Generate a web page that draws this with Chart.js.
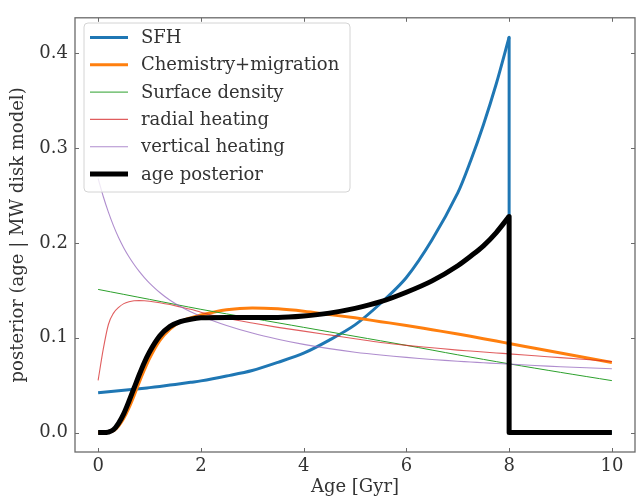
<!DOCTYPE html>
<html><head><meta charset="utf-8">
<script src="https://cdn.jsdelivr.net/npm/chart.js@4.4.0/dist/chart.umd.min.js"></script>
<style>html,body{margin:0;padding:0;background:#fff;}</style>
</head><body>
<canvas id="c" width="638" height="498"></canvas>
<script>
// ---- data ----
const ages = [0,0.1,0.2,0.3,0.4,0.5,0.6,0.7,0.8,0.9,1.0,1.2,1.4,1.6,1.8,2.0,2.5,3.0,3.5,4.0,4.5,5.0,5.5,6.0,6.5,7.0,7.25,7.5,7.75,8.0];
const tailAges = [8.5,9.0,9.5,10.0];
const dropAges = [8.0,8.0,10.0];

const sfh = [0.042,0.0425,0.0430,0.0435,0.0441,0.0446,0.0451,0.0457,0.0462,0.0468,0.0474,0.0487,0.0501,0.0515,0.0530,0.0545,0.0597,0.0655,0.0741,0.0837,0.0975,0.1136,0.1364,0.1636,0.2034,0.2528,0.2865,0.3247,0.3679,0.417];
const sfhDrop = [0.417,0,0];

const chem = [0,0,0.0003,0.002,0.007,0.015,0.026,0.039,0.053,0.066,0.078,0.097,0.109,0.117,0.121,0.124,0.1295,0.1315,0.1305,0.128,0.1245,0.121,0.117,0.113,0.1085,0.104,0.1015,0.099,0.0965,0.094];
const chemTail = [0.089,0.084,0.079,0.074];

const surfAges = [0,1,2,3,4,5,6,7,8,9,10];
const surf = [0.151,0.1405,0.130,0.1205,0.111,0.1015,0.092,0.082,0.0725,0.0635,0.0548];

const radial = [0.055,0.088,0.114,0.126,0.132,0.136,0.138,0.139,0.1392,0.139,0.1385,0.137,0.135,0.1325,0.130,0.127,0.1205,0.1155,0.111,0.107,0.103,0.099,0.095,0.092,0.0895,0.087,0.086,0.085,0.084,0.083];
const radialTail = [0.081,0.079,0.077,0.075];

const vertical = [0.268,0.249,0.2325,0.218,0.2055,0.1948,0.1855,0.1773,0.170,0.1635,0.1577,0.1477,0.1395,0.1330,0.1275,0.1228,0.1130,0.1050,0.0985,0.0930,0.0885,0.0848,0.0818,0.0793,0.0771,0.0752,0.0744,0.0736,0.0729,0.0722];
const verticalTail = [0.0708,0.0695,0.0684,0.0673];

const posterior = [0,0,0.0005,0.003,0.010,0.020,0.033,0.047,0.061,0.074,0.085,0.102,0.112,0.117,0.1195,0.121,0.1215,0.1215,0.1215,0.123,0.126,0.131,0.138,0.148,0.160,0.176,0.186,0.197,0.211,0.228];
const postDrop = [0.228,0,0];

const xTicks = [0,2,4,6,8,10];
const yTicks = [0.0,0.1,0.2,0.3,0.4];

const labels = ['SFH','Chemistry+migration','Surface density','radial heating','vertical heating','age posterior'];

// ---- build datasets ----
const zip = (xs, ys) => xs.map((x,i)=>({x:x, y:ys[i]}));
const FONT = 'DejaVu Serif';
const FS = 18;
const TXT = '#333333';
const SPINE = '#6a6a6a';
const C = ['#1f77b4','#ff7f0e','#2ca02c','rgba(214,39,40,0.75)','rgba(148,103,189,0.75)','#000000'];
const W = [3,3,1,1.1,1.1,5];

const mono = {pointRadius:0, tension:0.4, cubicInterpolationMode:'monotone', fill:false, borderJoinStyle:'round', borderCapStyle:'butt'};
const spline = {pointRadius:0, tension:0.3, cubicInterpolationMode:'default', fill:false, borderJoinStyle:'round', borderCapStyle:'butt'};
const straight = {pointRadius:0, tension:0, fill:false, borderJoinStyle:'round', borderCapStyle:'butt'};

const series = [
  Object.assign({label:labels[0], data: zip(ages,sfh), borderColor:C[0], borderWidth:W[0], order:5, legend:true}, spline),
  Object.assign({label:labels[0]+' drop', data: zip(dropAges,sfhDrop), borderColor:C[0], borderWidth:W[0], order:5}, straight),
  Object.assign({label:labels[1], data: zip(ages,chem).concat(zip(tailAges,chemTail)), borderColor:C[1], borderWidth:W[1], order:4, legend:true}, mono),
  Object.assign({label:labels[2], data: zip(surfAges,surf), borderColor:C[2], borderWidth:W[2], order:3, legend:true}, spline),
  Object.assign({label:labels[3], data: zip(ages,radial).concat(zip(tailAges,radialTail)), borderColor:C[3], borderWidth:W[3], order:2, legend:true}, mono),
  Object.assign({label:labels[4], data: zip(ages,vertical).concat(zip(tailAges,verticalTail)), borderColor:C[4], borderWidth:W[4], order:1, legend:true}, spline),
  Object.assign({label:labels[5], data: zip(ages,posterior), borderColor:C[5], borderWidth:W[5], order:0, legend:true}, mono),
  Object.assign({label:labels[5]+' drop', data: zip(dropAges,postDrop), borderColor:C[5], borderWidth:W[5], order:0}, straight)
];

const framePlugin = {
  id:'frame',
  afterDatasetsDraw(chart){
    const {ctx, chartArea:a, scales} = chart;
    ctx.save();
    ctx.strokeStyle = SPINE; ctx.lineWidth = 1;
    const L = 4;
    ctx.beginPath();
    xTicks.forEach(v=>{
      const px = Math.round(scales.x.getPixelForValue(v))+0.5;
      ctx.moveTo(px, a.bottom); ctx.lineTo(px, a.bottom-L);
      ctx.moveTo(px, a.top); ctx.lineTo(px, a.top+L);
    });
    yTicks.forEach(v=>{
      const py = Math.round(scales.y.getPixelForValue(v))+0.5;
      ctx.moveTo(a.left, py); ctx.lineTo(a.left+L, py);
      ctx.moveTo(a.right, py); ctx.lineTo(a.right-L, py);
    });
    ctx.stroke();
    ctx.lineWidth = 1.3;
    ctx.strokeRect(a.left, a.top, a.right-a.left, a.bottom-a.top);
    // legend
    const bx=84, by=23, bw=266, bh=169, r=4;
    ctx.beginPath();
    ctx.moveTo(bx+r,by); ctx.lineTo(bx+bw-r,by); ctx.arcTo(bx+bw,by,bx+bw,by+r,r);
    ctx.lineTo(bx+bw,by+bh-r); ctx.arcTo(bx+bw,by+bh,bx+bw-r,by+bh,r);
    ctx.lineTo(bx+r,by+bh); ctx.arcTo(bx,by+bh,bx,by+bh-r,r);
    ctx.lineTo(bx,by+r); ctx.arcTo(bx,by,bx+r,by,r); ctx.closePath();
    ctx.fillStyle='rgba(255,255,255,0.8)'; ctx.fill();
    ctx.strokeStyle='#d4d4d4'; ctx.lineWidth=1; ctx.stroke();
    ctx.font = FS+'px "'+FONT+'"';
    ctx.textBaseline='middle'; ctx.textAlign='left';
    chart.data.datasets.filter(d=>d.legend).forEach((d,i)=>{
      const y = 37.5 + i*27.3;
      ctx.beginPath(); ctx.strokeStyle=d.borderColor; ctx.lineWidth=d.borderWidth; ctx.lineCap='butt';
      ctx.moveTo(90,y); ctx.lineTo(128,y); ctx.stroke();
      ctx.fillStyle=TXT; ctx.fillText(d.label, 141, y+1);
    });
    ctx.restore();
  }
};

new Chart(document.getElementById('c'), {
  type:'line',
  data:{datasets:series},
  plugins:[framePlugin],
  options:{
    responsive:false, animation:false, devicePixelRatio:1,
    layout:{padding:{top:13,right:3,left:0,bottom:0}},
    plugins:{legend:{display:false}, tooltip:{enabled:false}},
    scales:{
      x:{type:'linear', min:-0.45, max:10.45,
        afterBuildTicks:s=>{s.ticks = xTicks.map(v=>({value:v}));},
        afterFit:s=>{s.height=46;},
        grid:{display:false, drawTicks:false}, border:{display:false},
        ticks:{font:{family:FONT,size:FS}, color:TXT, padding:4, maxRotation:0, callback:v=>String(v)},
        title:{display:true, text:'Age [Gyr]', font:{family:FONT,size:FS}, color:TXT, padding:{top:0,bottom:0}}
      },
      y:{type:'linear', min:-0.0205, max:0.4375,
        afterBuildTicks:s=>{s.ticks = yTicks.map(v=>({value:v}));},
        afterFit:s=>{s.width=75;},
        grid:{display:false, drawTicks:false}, border:{display:false},
        ticks:{font:{family:FONT,size:FS}, color:TXT, padding:7, callback:v=>Number(v).toFixed(1)},
        title:{display:true, text:'posterior (age | MW disk model)', font:{family:FONT,size:FS}, color:TXT, padding:{top:8,bottom:0}}
      }
    }
  }
});
</script>
</body></html>
